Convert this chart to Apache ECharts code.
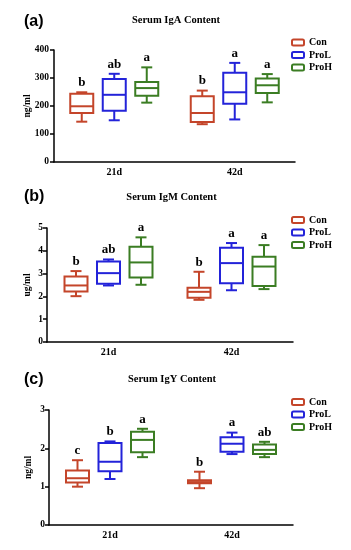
<!DOCTYPE html>
<html>
<head>
<meta charset="utf-8">
<script src="https://cdn.jsdelivr.net/npm/echarts@6/dist/echarts.min.js"></script>
<style>html,body{margin:0;padding:0;background:#fff;}#chart{width:351px;height:550px;}</style>
</head>
<body>
<div id="chart"></div>
<script>
// ---- data ----
const categories = ['21d', '42d'];
const groupNames = ['Con', 'ProL', 'ProH'];

// [min, Q1, median, Q3, max] per category
const igaCon  = [[144, 175, 199, 244, 249], [135, 143, 175, 235, 255]];
const igaProL = [[149, 183, 240, 296, 315], [152, 208, 249, 319, 354]];
const igaProH = [[212, 237, 264, 286, 338], [213, 246, 274, 298, 314]];
const igaLetters = [['b', 'b'], ['ab', 'a'], ['a', 'a']];
const igaTicks = [0, 100, 200, 300, 400];

const igmCon  = [[2.01, 2.21, 2.48, 2.87, 3.11], [1.85, 1.94, 2.20, 2.38, 3.08]];
const igmProL = [[2.48, 2.55, 3.02, 3.53, 3.62], [2.27, 2.58, 3.46, 4.13, 4.34]];
const igmProH = [[2.51, 2.83, 3.49, 4.18, 4.59], [2.32, 2.46, 3.31, 3.74, 4.25]];
const igmLetters = [['b', 'b'], ['ab', 'a'], ['a', 'a']];
const igmTicks = [0, 1, 2, 3, 4, 5];

const igyCon  = [[1.00, 1.11, 1.22, 1.42, 1.69], [0.96, 1.09, 1.12, 1.17, 1.39]];
const igyProL = [[1.20, 1.40, 1.65, 2.14, 2.18], [1.85, 1.91, 2.12, 2.29, 2.41]];
const igyProH = [[1.77, 1.90, 2.22, 2.43, 2.51], [1.77, 1.85, 1.96, 2.10, 2.17]];
const igyLetters = [['c', 'b'], ['b', 'a'], ['a', 'ab']];
const igyTicks = [0, 1, 2, 3];

const panelTags = ['(a)', '(b)', '(c)'];
const panelTitles = ['Serum IgA Content', 'Serum IgM Content', 'Serum IgY Content'];
const yNames = ['ng/ml', 'ug/ml', 'ng/ml'];

// ---- styling / layout ----
const colors = ['#c4452a', '#2323d9', '#3b7d23'];
const offsets = [-32.5, 0, 32.5];
const SERIF = '"Liberation Serif", "Times New Roman", serif';
const panels = [
  { data: [igaCon, igaProL, igaProH], letters: igaLetters, ticks: igaTicks,
    grid: { left: 54, width: 241, top: 50, height: 112 }, nameGap: 21, labelMargin: 5,
    tagY: 14, titleX: 176, titleY: 20, legendTop: 36.5 },
  { data: [igmCon, igmProL, igmProH], letters: igmLetters, ticks: igmTicks,
    grid: { left: 47, width: 246, top: 228, height: 114 }, nameGap: 14, labelMargin: 4,
    tagY: 189, titleX: 171.5, titleY: 197, legendTop: 214 },
  { data: [igyCon, igyProL, igyProH], letters: igyLetters, ticks: igyTicks,
    grid: { left: 49, width: 244, top: 410, height: 115 }, nameGap: 15, labelMargin: 4,
    tagY: 372, titleX: 172, titleY: 379, legendTop: 396 }
];

function makeRender(off, letters, color) {
  return function (params, api) {
    const ci = api.value(0);
    const cx = api.coord([ci, 0])[0] + off;
    const y = [1, 2, 3, 4, 5].map(d => api.coord([ci, api.value(d)])[1]);
    const hw = 11.5, cw = 5.5;
    const ls = { stroke: color, lineWidth: 2 };
    const line = (x1, y1, x2, y2) => ({ type: 'line', shape: { x1, y1, x2, y2 }, style: ls });
    return {
      type: 'group',
      children: [
        line(cx, y[3], cx, y[4]),
        line(cx, y[1], cx, y[0]),
        line(cx - cw, y[4], cx + cw, y[4]),
        line(cx - cw, y[0], cx + cw, y[0]),
        { type: 'rect', shape: { x: cx - hw, y: y[3], width: 2 * hw, height: y[1] - y[3] },
          style: { stroke: color, lineWidth: 2, fill: '#fff' } },
        line(cx - hw, y[2], cx + hw, y[2]),
        { type: 'text', x: cx, y: y[4] - 3,
          style: { text: letters[params.dataIndex], font: 'bold 13px ' + SERIF, fill: '#000',
                   align: 'center', verticalAlign: 'bottom', textAlign: 'center', textVerticalAlign: 'bottom' } }
      ]
    };
  };
}

const grid = [], xAxis = [], yAxis = [], series = [], legend = [], graphic = [];
panels.forEach((p, i) => {
  grid.push(Object.assign({}, p.grid));
  xAxis.push({
    gridIndex: i, type: 'category', data: categories,
    axisLine: { lineStyle: { color: '#000', width: 1.5 } },
    axisTick: { alignWithLabel: true, length: 3, lineStyle: { color: '#000', width: 1.5 } },
    axisLabel: { margin: 5, color: '#000', fontFamily: SERIF, fontWeight: 'bold', fontSize: 10 }
  });
  const tks = p.ticks;
  yAxis.push({
    gridIndex: i, type: 'value', min: tks[0], max: tks[tks.length - 1], interval: tks[1] - tks[0],
    name: yNames[i], nameLocation: 'middle', nameGap: p.nameGap, nameMoveOverlap: false,
    nameTextStyle: { color: '#000', fontFamily: SERIF, fontWeight: 'bold', fontSize: 9.5 },
    axisLine: { show: true, lineStyle: { color: '#000', width: 1.5 } },
    axisTick: { show: true, length: 4, lineStyle: { color: '#000', width: 1.5 } },
    splitLine: { show: false },
    axisLabel: { margin: p.labelMargin, color: '#000', fontFamily: SERIF, fontWeight: 'bold', fontSize: 9.5 }
  });
  groupNames.forEach((g, k) => {
    series.push({
      type: 'custom', name: g, xAxisIndex: i, yAxisIndex: i,
      itemStyle: { color: colors[k] },
      encode: { x: 0, y: [1, 2, 3, 4, 5] },
      data: p.data[k].map((v, ci) => [ci].concat(v)),
      renderItem: makeRender(offsets[k], p.letters[k], colors[k]),
      z: 2
    });
  });
  legend.push({
    orient: 'vertical', left: 291, top: p.legendTop, padding: 0,
    itemWidth: 12, itemHeight: 6, itemGap: 0.5,
    selectedMode: false,
    textStyle: { color: '#000', fontFamily: SERIF, fontWeight: 'bold', fontSize: 10, lineHeight: 12 },
    data: groupNames.map((g, k) => ({
      name: g, icon: 'roundRect',
      itemStyle: { color: '#fff', borderColor: colors[k], borderWidth: 2 }
    }))
  });
  graphic.push({
    type: 'text', left: 24, top: p.tagY,
    style: { text: panelTags[i], font: 'bold 16px "Liberation Sans", Arial, sans-serif', fill: '#000' }
  });
  graphic.push({
    type: 'text', x: p.titleX, y: p.titleY,
    style: { text: panelTitles[i], font: 'bold 10.5px ' + SERIF, fill: '#000',
             align: 'center', verticalAlign: 'middle', textAlign: 'center', textVerticalAlign: 'middle' }
  });
});

const chart = echarts.init(document.getElementById('chart'), null, { renderer: 'canvas' });
chart.setOption({
  backgroundColor: '#fff',
  animation: false,
  grid, xAxis, yAxis, series, legend, graphic
});
</script>
</body>
</html>
